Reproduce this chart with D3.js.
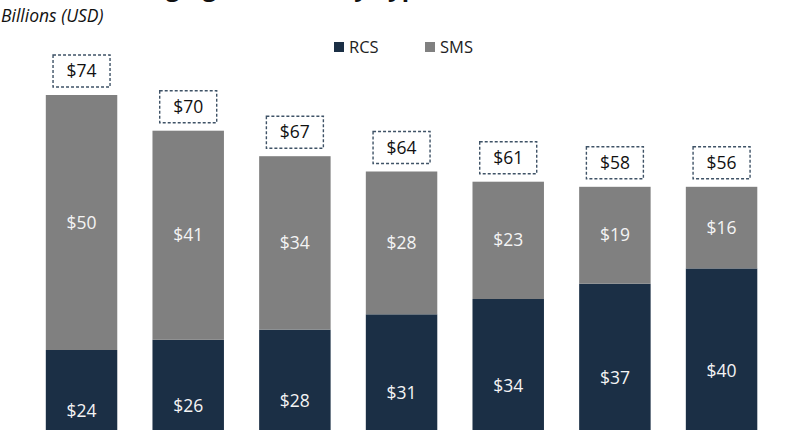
<!DOCTYPE html>
<html><head><meta charset="utf-8">
<script src="https://cdn.jsdelivr.net/npm/d3@7"></script>
<style>
html,body{margin:0;padding:0;background:#fff;overflow:hidden}
svg{display:block;font-family:"Open Sans",sans-serif}
</style></head>
<body><svg id="c" width="790" height="430"></svg>
<script>
const categories = ["2023","2024","2025","2026","2027","2028","2029"];
const rcs = [24,26,28,31,34,37,40];
const sms = [50,41,34,28,23,19,16];
const totals = [74,70,67,64,61,58,56];
const seriesNames = ["RCS","SMS"];
const colors = {RCS:"#1b2f45", SMS:"#808080"};

const svg = d3.select("#c");
const x = d3.scaleBand().domain(categories).range([28.2, 774.9]).paddingInner(0.33).paddingOuter(0.165);
const y = d3.scaleLinear().domain([0, 74]).range([472.4, 95]);

const rows = categories.map((c,i)=>({cat:c, RCS:rcs[i], SMS:sms[i], total:totals[i]}));
const stack = d3.stack().keys(seriesNames)(rows);

// title (cropped above, as in the reference; only descenders show)
svg.append("text").attr("x", 8).attr("y", -4).attr("font-size", 24).attr("font-weight", 700)
  .attr("fill", "#111").text("Global Messaging Revenue, by Type");
svg.append("text").attr("x", 1).attr("y", 22).attr("font-size", 17.5).attr("font-style", "italic")
  .attr("fill", "#111").text("Billions (USD)");

// legend
const leg = svg.append("g");
const legX = [334, 425];
seriesNames.forEach((s,i)=>{
  leg.append("rect").attr("x", legX[i]).attr("y", 42).attr("width", 10).attr("height", 10).attr("fill", colors[s]);
  leg.append("text").attr("x", legX[i]+15).attr("y", 53).attr("font-size", 16.5).attr("fill", "#222").text(s);
});

// bars
stack.forEach(layer=>{
  const g = svg.append("g");
  g.selectAll("rect").data(layer).join("rect")
    .attr("x", d=>x(d.data.cat)).attr("width", x.bandwidth())
    .attr("y", d=>y(d[1])).attr("height", d=>y(d[0])-y(d[1]))
    .attr("fill", colors[layer.key]);
  g.selectAll("text").data(layer).join("text")
    .attr("x", d=>x(d.data.cat)+x.bandwidth()/2)
    .attr("y", d=>Math.min((y(d[0])+y(d[1]))/2, 412))
    .attr("dy", "0.35em").attr("text-anchor", "middle")
    .attr("font-size", 17.5).attr("fill", "#f4f4f4")
    .text(d=>"$"+d.data[layer.key]);
});

// total boxes
const tg = svg.append("g");
rows.forEach(r=>{
  const cx = x(r.cat)+x.bandwidth()/2;
  const top = y(r.RCS + r.SMS);
  const bw = 57, bh = 32;
  tg.append("rect").attr("x", cx-bw/2).attr("y", top-8-bh).attr("width", bw).attr("height", bh)
    .attr("fill", "#fff").attr("stroke", "#3e5266").attr("stroke-width", 1.4).attr("stroke-dasharray", "3,2");
  tg.append("text").attr("x", cx).attr("y", top-8-bh/2).attr("dy", "0.35em")
    .attr("text-anchor", "middle").attr("font-size", 17.5).attr("fill", "#111").text("$"+r.total);
});
</script></body></html>
